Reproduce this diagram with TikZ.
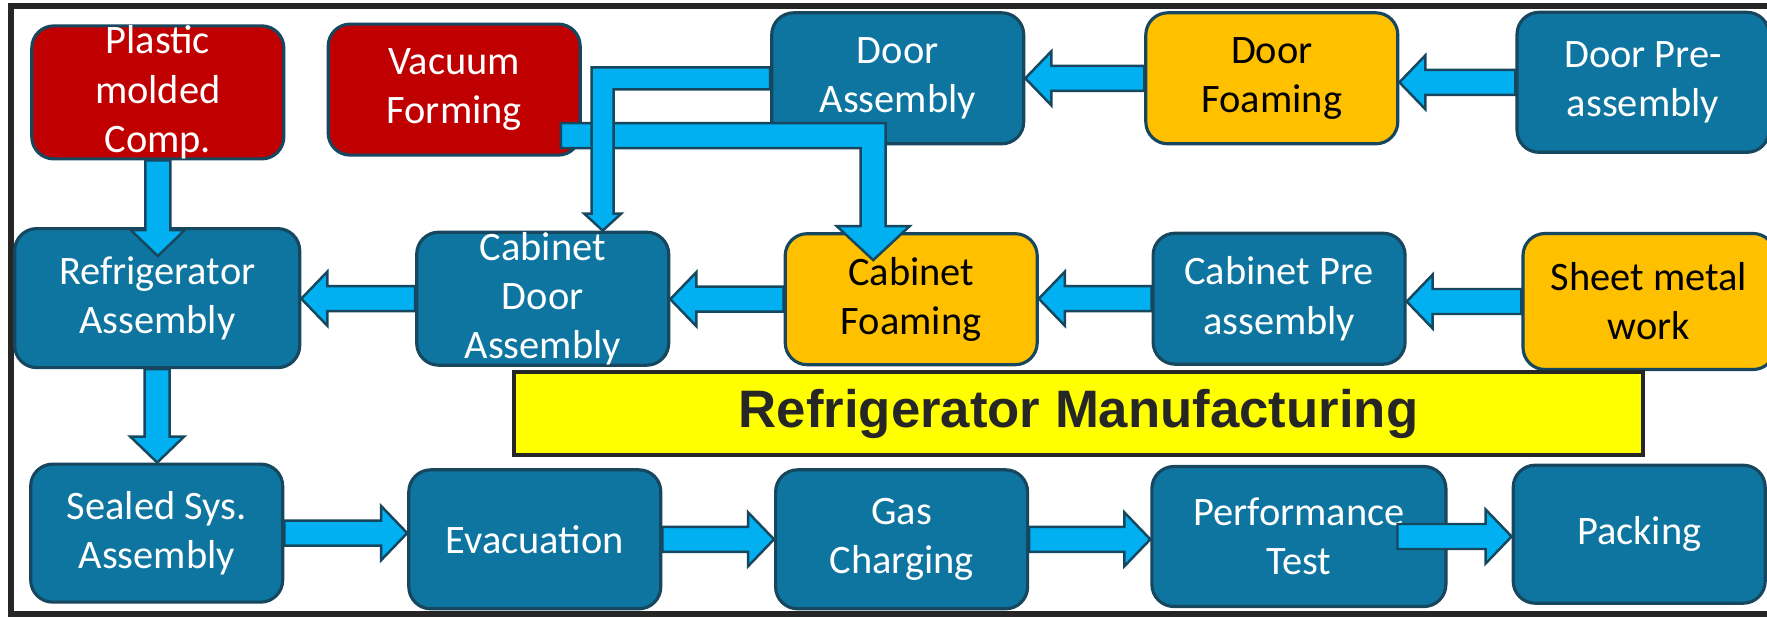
\documentclass[tikz,border=0pt]{standalone}
\usepackage{fontspec}
\newfontfamily\boxfont{Carlito}
\newfontfamily\titlefont{Liberation Sans}
\usetikzlibrary{calc}
\definecolor{stageteal}{HTML}{0E75A0}
\definecolor{stageline}{HTML}{17475E}
\definecolor{partred}{HTML}{C00000}
\definecolor{foamgold}{HTML}{FFC000}
\definecolor{flowblue}{HTML}{00B0F0}
\definecolor{banner}{HTML}{FFFF00}
\definecolor{inkgray}{HTML}{262626}

\newcommand{\fshaft}{1.25mm}
\newcommand{\fwing}{2.7mm}
\newcommand{\fhead}{2.6mm}
\newcommand{\flowarrow}[2]{%
  \draw[flow] ($(#1)!\fshaft!90:(#2)$) -- ($(#2)!\fhead!(#1)!\fshaft!90:(#2)$)
    -- ($(#2)!\fhead!(#1)!\fwing!90:(#2)$) -- (#2)
    -- ($(#2)!\fhead!(#1)!\fwing!-90:(#2)$) -- ($(#2)!\fhead!(#1)!\fshaft!-90:(#2)$)
    -- ($(#1)!\fshaft!-90:(#2)$) -- cycle;}

\begin{document}
\begin{tikzpicture}[
  stage/.style={rectangle, rounded corners=2.2mm, draw=stageline, line width=0.9pt,
    fill=stageteal, text=white, minimum width=2.52cm, minimum height=1.31cm,
    inner sep=0pt, align=center, font=\boxfont\fontsize{11.5}{14}\selectfont},
  part/.style={stage, fill=partred},
  foam/.style={stage, fill=foamgold, text=black},
  flow/.style={draw=stageline, fill=flowblue, line width=0.7pt, line join=miter}]
  \useasboundingbox[fill=white] (0,0) rectangle (17.67,6.17);
  \draw[line width=0.6mm, inkgray] (0.11,0.03) rectangle (18.5,6.11);

  \node[part] (plastic) at (1.578,5.246) {Plastic\\molded\\Comp.};
  \node[part] (vacuum) at (4.542,5.274) {Vacuum\\Forming};
  \node[stage] (door) at (8.977,5.387) {Door\\Assembly};
  \node[foam] (doorfoam) at (12.718,5.387) {Door\\Foaming};
  \node[stage, minimum height=1.40cm] (doorpre) at (16.43,5.347) {Door Pre-\\assembly};

  \node[stage, minimum width=2.85cm, minimum height=1.39cm] (refrig) at (1.572,3.189) {Refrigerator\\Assembly};
  \node[stage] (cabdoor) at (5.427,3.183) {Cabinet\\Door\\Assembly};
  \node[foam] (cabfoam) at (9.112,3.178) {Cabinet\\Foaming};
  \node[stage] (cabpre) at (12.791,3.183) {Cabinet Pre\\assembly};
  \node[foam, minimum height=1.36cm] (sheet) at (16.49,3.155) {Sheet metal\\work};

  \node[draw=inkgray, line width=1.3pt, fill=banner, minimum width=11.29cm, minimum height=0.83cm,
    text=inkgray, font=\titlefont\bfseries\fontsize{15}{18}\selectfont] (title) at (10.785,2.034) {Refrigerator Manufacturing};

  \node[stage, minimum height=1.38cm] (sealed) at (1.567,0.839) {Sealed Sys.\\Assembly};
  \node[stage, minimum height=1.39cm] (evac) at (5.348,0.777) {Evacuation};
  \node[stage, minimum height=1.39cm] (gas) at (9.016,0.777) {Gas\\Charging};
  \node[stage, minimum width=2.94cm, minimum height=1.40cm] (perf) at (12.989,0.805) {Performance\\Test};
  \node[stage, minimum height=1.38cm] (packing) at (16.392,0.828) {Packing};

  \coordinate (vstart) at ($(vacuum.east)+(-0.21,-0.46)$);
  \coordinate (vbend) at ($(cabfoam.north |- vstart)+(-0.38,0)$);
  \coordinate (vtip) at ($(vbend |- cabfoam.north)+(0,-0.28)$);
  \draw[flow] ($(vstart)+(0,0.125)$) -- ($(vbend)+(0.125,0.125)$) -- ($(vtip)+(0.125,0.34)$)
    -- ($(vtip)+(0.365,0.34)$) -- (vtip) -- ($(vtip)+(-0.365,0.34)$) -- ($(vtip)+(-0.125,0.34)$)
    -- ($(vbend)+(-0.125,-0.125)$) -- ($(vstart)+(0,-0.125)$) -- cycle;

  \coordinate (dbend) at ($(cabdoor.north |- door.west)+(0.6,0)$);
  \coordinate (dtip) at (dbend |- cabdoor.north);
  \draw[flow] ($(door.west)+(0,0.11)$) -- ($(dbend)+(-0.11,0.11)$) -- ($(dtip)+(-0.11,0.17)$)
    -- ($(dtip)+(-0.185,0.17)$) -- (dtip) -- ($(dtip)+(0.185,0.17)$) -- ($(dtip)+(0.11,0.17)$)
    -- ($(dbend)+(0.11,-0.11)$) -- ($(door.west)+(0,-0.11)$) -- cycle;

  \coordinate (ptip) at ($(plastic.south |- refrig.north)+(0,-0.29)$);
  \coordinate (pstart) at ($(perf.east)+(-0.5,0)$);
  \flowarrow{doorpre.west}{doorpre.west -| doorfoam.east}
  \flowarrow{doorfoam.west}{doorfoam.west -| door.east}
  \flowarrow{sheet.west}{sheet.west -| cabpre.east}
  \flowarrow{cabpre.west}{cabpre.west -| cabfoam.east}
  \flowarrow{cabfoam.west}{cabfoam.west -| cabdoor.east}
  \flowarrow{cabdoor.west}{cabdoor.west -| refrig.east}
  \flowarrow{plastic.south}{ptip}
  \flowarrow{refrig.south}{refrig.south |- sealed.north}
  \flowarrow{sealed.east}{sealed.east -| evac.west}
  \flowarrow{evac.east}{evac.east -| gas.west}
  \flowarrow{gas.east}{gas.east -| perf.west}
  \flowarrow{pstart}{pstart -| packing.west}
\end{tikzpicture}
\end{document}
